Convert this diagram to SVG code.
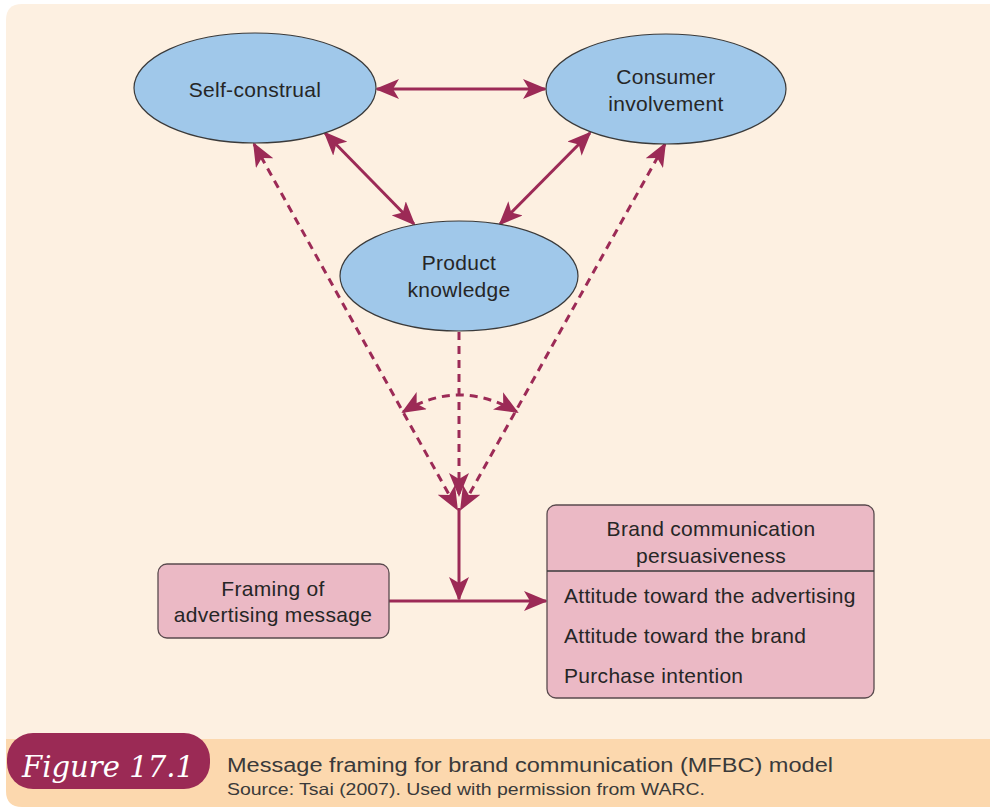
<svg xmlns="http://www.w3.org/2000/svg" width="990" height="808" viewBox="0 0 990 808">
<defs>
<style>
.bg{fill:#fdf0e1}
.band{fill:#fcd8ae}
.ell{fill:#a0c8ea;stroke:#3a3a3a;stroke-width:1.2}
.box{fill:#ebb9c5;stroke:#5a4a4e;stroke-width:1.3}
.t{font-family:"Liberation Sans",Arial,sans-serif;font-size:21px;fill:#262626;letter-spacing:0.3px}
.c{text-anchor:middle}
.con{fill:none;stroke:#9c2a56;stroke-width:3}
.dash{stroke-dasharray:8 6}
.cap{font-family:"Liberation Sans",Arial,sans-serif;fill:#3a3a3a}
</style>
<marker id="ah" viewBox="0 0 24 20" refX="22" refY="10" markerWidth="24" markerHeight="20" markerUnits="userSpaceOnUse" orient="auto-start-reverse">
<path d="M0,0 L24,10 L0,20 L6,10 Z" fill="#9c2a56"/>
</marker>
</defs>
<rect width="990" height="808" fill="#ffffff"/>
<path class="bg" d="M6,20 Q6,4 22,4 L990,4 L990,739 L6,739 Z"/>
<path class="band" d="M6,739 L990,739 L990,807 L22,807 Q6,807 6,791 Z"/>

<g id="connectors">
<line class="con" x1="377" y1="89" x2="545" y2="89" marker-start="url(#ah)" marker-end="url(#ah)"/>
<line class="con" x1="325" y1="133" x2="414" y2="224" marker-start="url(#ah)" marker-end="url(#ah)"/>
<line class="con" x1="590" y1="133" x2="500" y2="224" marker-start="url(#ah)" marker-end="url(#ah)"/>
<line class="con dash" x1="254" y1="144" x2="457" y2="509" marker-start="url(#ah)" marker-end="url(#ah)"/>
<line class="con dash" x1="665" y1="144" x2="461" y2="509" marker-start="url(#ah)" marker-end="url(#ah)"/>
<line class="con dash" x1="459" y1="332" x2="459" y2="495" marker-end="url(#ah)"/>
<path class="con dash" d="M403,412 Q459,378 517,412" marker-start="url(#ah)" marker-end="url(#ah)"/>
<line class="con" x1="459" y1="508" x2="459" y2="599" marker-end="url(#ah)"/>
<line class="con" x1="389" y1="601" x2="546" y2="601" marker-end="url(#ah)"/>
</g>

<g id="self-construal">
<ellipse class="ell" cx="255" cy="88" rx="121" ry="55"/>
<text class="t c" x="255" y="97">Self-construal</text>
</g>
<g id="consumer-involvement">
<ellipse class="ell" cx="666" cy="89" rx="120" ry="55"/>
<text class="t c" x="666" y="84">Consumer</text>
<text class="t c" x="666" y="111">involvement</text>
</g>
<g id="product-knowledge">
<ellipse class="ell" cx="459" cy="276" rx="119" ry="55"/>
<text class="t c" x="459" y="270">Product</text>
<text class="t c" x="459" y="297">knowledge</text>
</g>
<g id="framing">
<rect class="box" x="158" y="564" width="231" height="74" rx="9"/>
<text class="t c" x="273" y="596">Framing of</text>
<text class="t c" x="273" y="622">advertising message</text>
</g>
<g id="brand-communication">
<rect class="box" x="547" y="505" width="327" height="193" rx="9"/>
<line x1="547" y1="571" x2="874" y2="571" stroke="#3a3a3a" stroke-width="1.3"/>
<text class="t c" x="711" y="536">Brand communication</text>
<text class="t c" x="711" y="563">persuasiveness</text>
<text class="t" x="564" y="603">Attitude toward the advertising</text>
<text class="t" x="564" y="643">Attitude toward the brand</text>
<text class="t" x="564" y="683">Purchase intention</text>
</g>

<g id="caption">
<rect x="7" y="733" width="203" height="56" rx="26" fill="#9b2a55"/>
<text x="22" y="777" font-family="'DejaVu Serif',serif" font-style="italic" font-size="30" fill="#ffffff" textLength="172" lengthAdjust="spacingAndGlyphs">Figure 17.1</text>
<text class="cap" x="227" y="772" font-size="20" textLength="606" lengthAdjust="spacingAndGlyphs">Message framing for brand communication (MFBC) model</text>
<text class="cap" x="227" y="795" font-size="16.5" textLength="478" lengthAdjust="spacingAndGlyphs">Source: Tsai (2007). Used with permission from WARC.</text>
</g>
</svg>
